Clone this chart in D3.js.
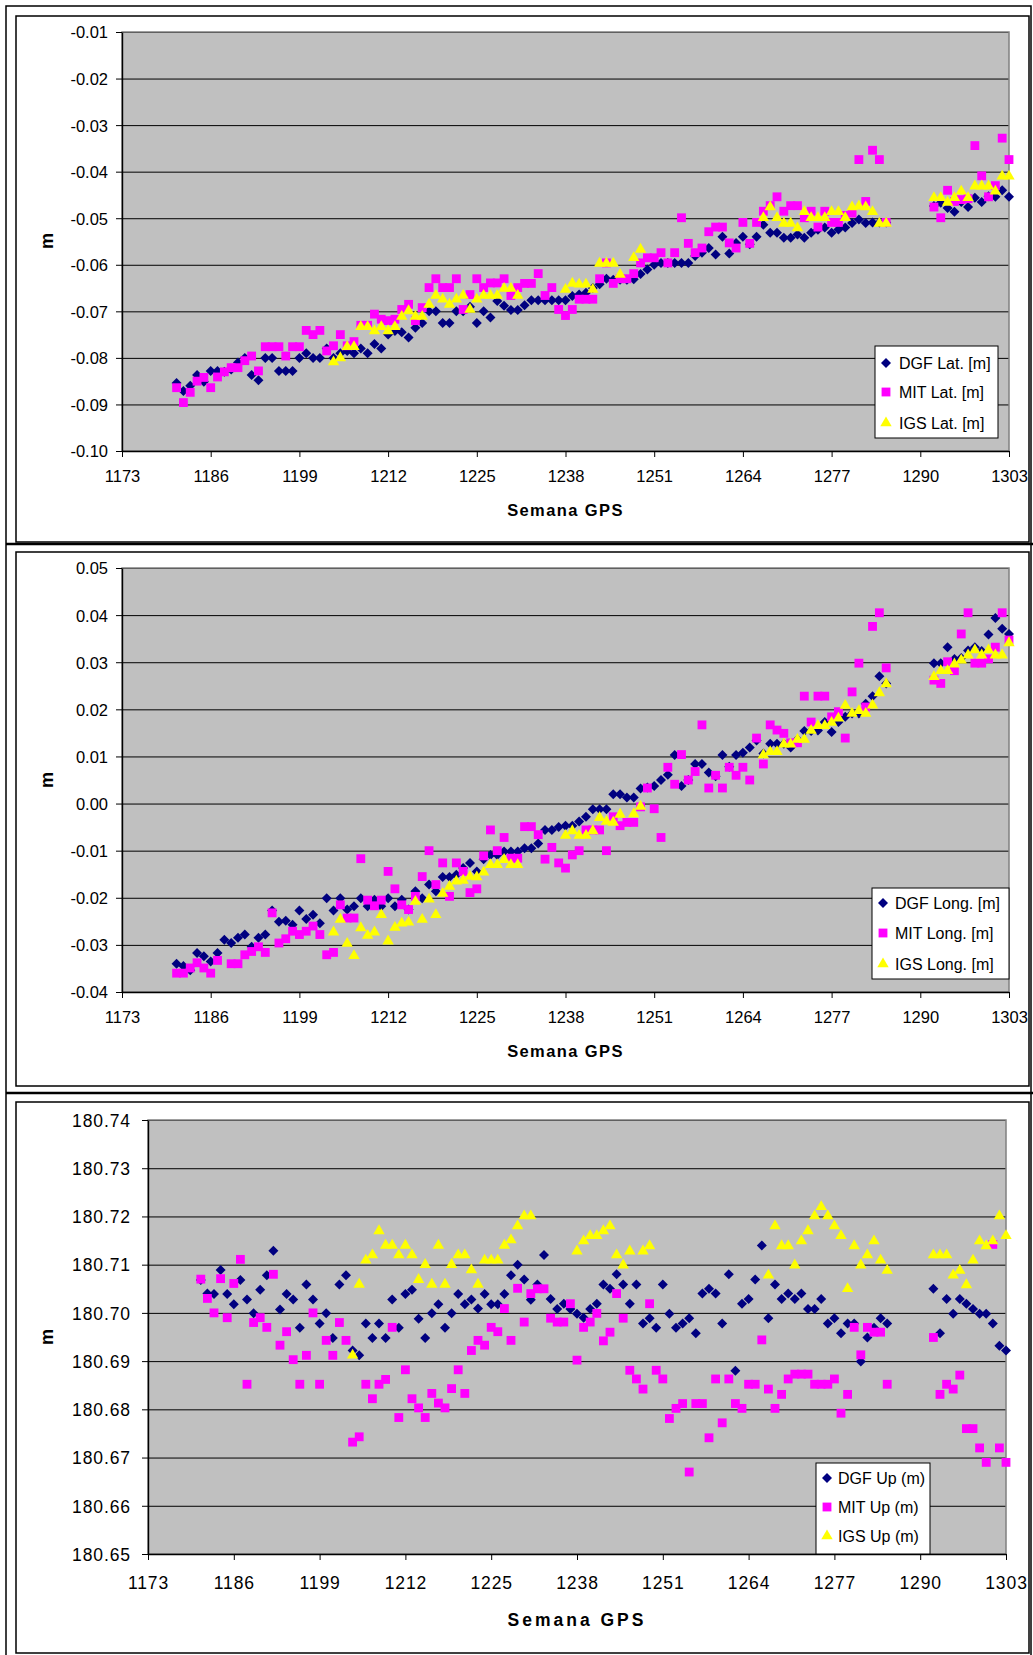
<!DOCTYPE html>
<html>
<head>
<meta charset="utf-8">
<script src="https://cdn.jsdelivr.net/npm/d3@7"></script>
<style>
  body { margin: 0; background: #fff; }
  svg { display: block; font-family: "Liberation Sans", Arial, Helvetica, sans-serif; }
</style>
</head>
<body>
<svg id="chart" width="1033" height="1655"></svg>
<script>
// GPS weeks with data (gap between 1285 and 1292)
const weeks = d3.range(1181, 1286).concat(d3.range(1292, 1304));
const xTicks = [1173, 1186, 1199, 1212, 1225, 1238, 1251, 1264, 1277, 1290, 1303];

const latTicks = [-0.10, -0.09, -0.08, -0.07, -0.06, -0.05, -0.04, -0.03, -0.02, -0.01];
const longTicks = [-0.04, -0.03, -0.02, -0.01, 0.00, 0.01, 0.02, 0.03, 0.04, 0.05];
const upTicks = [180.65, 180.66, 180.67, 180.68, 180.69, 180.70, 180.71, 180.72, 180.73, 180.74];

const latNames = ["DGF Lat. [m]", "MIT Lat. [m]", "IGS Lat. [m]"];
const longNames = ["DGF Long. [m]", "MIT Long. [m]", "IGS Long. [m]"];
const upNames = ["DGF Up (m)", "MIT Up (m)", "IGS Up (m)"];

// rows of 10 weeks from 1181, then 1281-1285, then 1292-1303
const dgfLat = [
  -0.0854,-0.0871,-0.0860,-0.0837,-0.0851,-0.0828,-0.0828,-0.0830,-0.0825,-0.0810,
  -0.0800,-0.0837,-0.0848,-0.0800,-0.0800,-0.0828,-0.0828,-0.0828,-0.0800,-0.0790,
  -0.0800,-0.0800,-0.0780,-0.0800,-0.0790,-0.0785,-0.0790,-0.0780,-0.0790,-0.0770,
  -0.0780,-0.0750,-0.0742,-0.0745,-0.0756,-0.0735,-0.0725,-0.0700,-0.0700,-0.0725,
  -0.0725,-0.0700,-0.0700,-0.0690,-0.0725,-0.0700,-0.0713,-0.0678,-0.0688,-0.0697,
  -0.0697,-0.0687,-0.0676,-0.0676,-0.0676,-0.0676,-0.0676,-0.0676,-0.0667,-0.0664,
  -0.0660,-0.0650,-0.0642,-0.0630,-0.0632,-0.0632,-0.0632,-0.0631,-0.0620,-0.0610,
  -0.0600,-0.0596,-0.0596,-0.0596,-0.0596,-0.0596,-0.0581,-0.0574,-0.0564,-0.0578,
  -0.0540,-0.0576,-0.0553,-0.0540,-0.0556,-0.0540,-0.0514,-0.0531,-0.0531,-0.0542,
  -0.0542,-0.0535,-0.0542,-0.0531,-0.0525,-0.0520,-0.0531,-0.0524,-0.0520,-0.0510,
  -0.0503,-0.0510,-0.0509,-0.0509,-0.0509,
  -0.0474,-0.0467,-0.0478,-0.0486,-0.0465,-0.0476,-0.0456,-0.0465,-0.0453,-0.0454,-0.0440,-0.0454
];
const mitLat = [
  -0.0864,-0.0896,-0.0874,-0.0850,-0.0842,-0.0864,-0.0841,-0.0830,-0.0821,-0.0821,
  -0.0806,-0.0796,-0.0828,-0.0776,-0.0776,-0.0776,-0.0796,-0.0776,-0.0776,-0.0741,
  -0.0750,-0.0741,-0.0785,-0.0774,-0.0750,-0.0774,-0.0765,-0.0730,-0.0730,-0.0706,
  -0.0717,-0.0720,-0.0717,-0.0696,-0.0685,-0.0720,-0.0692,-0.0649,-0.0630,-0.0649,
  -0.0649,-0.0630,-0.0696,-0.0664,-0.0630,-0.0649,-0.0639,-0.0639,-0.0630,-0.0666,
  -0.0649,-0.0640,-0.0640,-0.0619,-0.0666,-0.0649,-0.0696,-0.0709,-0.0696,-0.0674,
  -0.0674,-0.0674,-0.0630,-0.0596,-0.0640,-0.0630,-0.0630,-0.0619,-0.0596,-0.0585,
  -0.0585,-0.0574,-0.0596,-0.0574,-0.0499,-0.0554,-0.0574,-0.0564,-0.0529,-0.0519,
  -0.0519,-0.0553,-0.0564,-0.0509,-0.0554,-0.0509,-0.0485,-0.0473,-0.0454,-0.0485,
  -0.0473,-0.0473,-0.0499,-0.0485,-0.0519,-0.0485,-0.0509,-0.0509,-0.0494,-0.0489,
  -0.0374,-0.0464,-0.0354,-0.0374,-0.0509,
  -0.0476,-0.0499,-0.0440,-0.0464,-0.0460,-0.0458,-0.0344,-0.0409,-0.0454,-0.0430,-0.0328,-0.0374
];
const igsLat = [
  null,null,null,null,null,null,null,null,null,null,
  null,null,null,null,null,null,null,null,null,null,
  null,null,null,-0.0809,-0.0800,-0.0776,-0.0776,-0.0733,-0.0733,-0.0742,
  -0.0733,-0.0742,-0.0733,-0.0711,-0.0699,-0.0711,-0.0711,-0.0685,-0.0666,-0.0674,
  -0.0685,-0.0674,-0.0666,-0.0696,-0.0674,-0.0666,-0.0666,-0.0666,-0.0651,-0.0651,
  -0.0666,null,null,null,null,null,null,-0.0653,-0.0640,-0.0642,
  -0.0642,-0.0653,-0.0597,-0.0597,-0.0597,-0.0621,null,-0.0585,-0.0567,null,
  null,null,null,null,null,null,null,null,null,null,
  null,null,null,null,null,null,-0.0499,-0.0476,-0.0499,-0.0511,
  -0.0511,-0.0521,-0.0486,-0.0499,-0.0499,-0.0499,-0.0486,-0.0486,-0.0499,-0.0476,
  -0.0474,-0.0476,-0.0486,-0.0511,-0.0511,
  -0.0456,-0.0456,-0.0466,-0.0456,-0.0442,-0.0456,-0.0431,-0.0431,-0.0431,-0.0442,-0.0410,-0.0410
];

const dgfLong = [
  -0.0340,-0.0345,-0.0354,-0.0317,-0.0324,-0.0335,-0.0317,-0.0289,-0.0296,-0.0285,
  -0.0278,-0.0304,-0.0285,-0.0278,-0.0227,-0.0251,-0.0249,-0.0257,-0.0227,-0.0245,
  -0.0236,-0.0254,-0.0201,-0.0227,-0.0201,-0.0225,-0.0218,-0.0201,-0.0218,-0.0204,
  -0.0218,-0.0201,-0.0218,-0.0204,-0.0225,-0.0186,-0.0201,-0.0172,-0.0186,-0.0156,
  -0.0156,-0.0151,-0.0137,-0.0126,-0.0144,-0.0118,-0.0109,-0.0109,-0.0102,-0.0102,
  -0.0102,-0.0095,-0.0095,-0.0085,-0.0056,-0.0056,-0.0050,-0.0047,-0.0047,-0.0038,
  -0.0028,-0.0012,-0.0012,-0.0012,0.0020,0.0020,0.0013,0.0013,0.0032,0.0034,
  0.0037,0.0050,0.0061,0.0103,0.0037,0.0050,0.0084,0.0084,0.0066,0.0058,
  0.0103,0.0078,0.0103,0.0108,0.0119,0.0134,0.0106,0.0127,0.0127,0.0127,
  0.0119,0.0136,0.0154,0.0154,0.0155,0.0173,0.0152,0.0173,0.0184,0.0191,
  0.0191,0.0212,0.0228,0.0270,0.0255,
  0.0298,0.0298,0.0332,0.0307,0.0309,0.0325,0.0332,0.0324,0.0359,0.0394,0.0371,0.0360
];
const mitLong = [
  -0.0360,-0.0360,-0.0349,-0.0338,-0.0349,-0.0360,-0.0333,null,-0.0340,-0.0340,
  -0.0321,-0.0314,-0.0304,-0.0316,-0.0232,-0.0296,-0.0287,-0.0271,-0.0278,-0.0271,
  -0.0260,-0.0278,-0.0321,-0.0316,-0.0215,-0.0243,-0.0243,-0.0117,-0.0205,-0.0217,
  -0.0205,-0.0144,-0.0181,-0.0215,-0.0225,-0.0197,-0.0155,-0.0100,-0.0172,-0.0126,
  -0.0197,-0.0126,-0.0144,-0.0189,-0.0181,-0.0111,-0.0056,-0.0100,-0.0072,-0.0116,
  -0.0116,-0.0049,-0.0049,-0.0066,-0.0118,-0.0093,-0.0126,-0.0137,-0.0109,-0.0100,
  -0.0056,-0.0056,-0.0056,-0.0100,-0.0028,-0.0047,-0.0040,-0.0040,-0.0007,0.0033,
  -0.0011,-0.0072,0.0077,0.0041,0.0104,0.0050,0.0068,0.0167,0.0033,0.0060,
  0.0033,0.0077,0.0060,0.0077,0.0050,0.0139,0.0084,0.0167,0.0156,0.0149,
  0.0129,0.0129,0.0228,0.0173,0.0228,0.0228,0.0184,0.0195,0.0139,0.0237,
  0.0298,0.0205,0.0376,0.0405,0.0288,
  0.0262,0.0255,0.0301,0.0282,0.0360,0.0405,0.0298,0.0298,0.0307,0.0332,0.0405,0.0347
];
const igsLong = [
  null,null,null,null,null,null,null,null,null,null,
  null,null,null,null,null,null,null,null,null,null,
  null,null,null,-0.0273,-0.0246,-0.0297,-0.0323,-0.0264,-0.0280,-0.0273,
  -0.0236,-0.0292,-0.0263,-0.0254,-0.0252,-0.0208,-0.0246,-0.0203,-0.0236,-0.0191,
  -0.0176,-0.0165,-0.0163,-0.0155,-0.0156,-0.0146,-0.0130,-0.0130,-0.0119,-0.0130,
  -0.0130,null,null,null,null,null,null,-0.0068,-0.0058,-0.0068,
  -0.0068,-0.0058,-0.0030,-0.0038,-0.0040,-0.0023,null,-0.0022,-0.0006,null,
  null,null,null,null,null,null,null,null,null,null,
  null,null,null,null,null,null,0.0103,0.0110,0.0110,0.0126,
  0.0126,0.0136,0.0136,0.0155,0.0165,0.0165,0.0172,0.0181,0.0208,0.0191,
  0.0197,0.0191,0.0209,0.0235,0.0254,
  0.0269,0.0282,0.0282,0.0296,0.0304,0.0315,0.0326,0.0315,0.0326,0.0315,0.0315,0.0341
];

const dgfUp = [
  180.7068,180.7040,180.7039,180.7089,180.7039,180.7018,180.7068,180.7028,180.6999,180.7048,
  180.7078,180.7129,180.7007,180.7039,180.7028,180.6969,180.7059,180.7028,180.6978,180.6999,
  180.6948,180.7059,180.7078,180.6922,180.6912,180.6978,180.6948,180.6978,180.6948,180.7028,
  180.6969,180.7039,180.7048,180.6988,180.6948,180.6999,180.7018,180.6969,180.6999,180.7039,
  180.7018,180.7028,180.7009,180.7039,180.7018,180.7018,180.7039,180.7078,180.7100,180.7069,
  180.7027,180.7059,180.7120,180.7029,180.7008,180.7019,180.7008,180.6998,180.6990,180.7008,
  180.7019,180.7059,180.7050,180.7080,180.7059,180.7019,180.7059,180.6978,180.6989,180.6969,
  180.7059,180.6998,180.6969,180.6978,180.6989,180.6958,180.7040,180.7050,180.7040,180.6978,
  180.7080,180.6880,180.7019,180.7029,180.7069,180.7140,180.6989,180.7059,180.7029,180.7040,
  180.7029,180.7040,180.7008,180.7008,180.7029,180.6978,180.6989,180.6958,180.6978,180.6978,
  180.6899,180.6949,180.6969,180.6989,180.6978,
  180.7050,180.6958,180.7029,180.6998,180.7029,180.7019,180.7008,180.6998,180.6998,180.6978,180.6932,180.6922
];
const mitUp = [
  180.7070,180.7030,180.7000,180.7071,180.6990,180.7061,180.7111,180.6852,180.6980,180.6990,
  180.6970,180.7080,180.6933,180.6961,180.6903,180.6852,180.6912,180.7000,180.6852,180.6943,
  180.6912,180.6980,180.6943,180.6732,180.6743,180.6852,180.6822,180.6852,180.6862,180.6970,
  180.6783,180.6882,180.6822,180.6803,180.6783,180.6833,180.6813,180.6803,180.6843,180.6882,
  180.6833,180.6922,180.6943,180.6933,180.6970,180.6961,180.7009,180.6943,180.7051,180.6981,
  180.7040,180.7050,180.7050,180.6989,180.6981,180.6981,180.7019,180.6902,180.6970,180.6981,
  180.6999,180.6942,180.6960,180.7040,180.6989,180.6881,180.6863,180.6842,180.7019,180.6881,
  180.6863,180.6781,180.6802,180.6812,180.6670,180.6812,180.6812,180.6741,180.6863,180.6772,
  180.6863,180.6812,180.6802,180.6852,180.6852,180.6944,180.6842,180.6802,180.6831,180.6863,
  180.6873,180.6873,180.6873,180.6852,180.6852,180.6852,180.6863,180.6792,180.6831,180.6970,
  180.6913,180.6970,180.6960,180.6960,180.6852,
  180.6949,180.6831,180.6852,180.6842,180.6871,180.6760,180.6760,180.6720,180.6690,180.7142,180.6720,180.6690
];
const igsUp = [
  null,null,null,null,null,null,null,null,null,null,
  null,null,null,null,null,null,null,null,null,null,
  null,null,null,180.6912,180.7059,180.7109,180.7120,180.7170,180.7140,180.7140,
  180.7120,180.7140,180.7120,180.7069,180.7100,180.7059,180.7140,180.7059,180.7100,180.7120,
  180.7120,180.7089,180.7059,180.7109,180.7109,180.7109,180.7140,180.7151,180.7180,180.7201,
  180.7201,null,null,null,null,null,null,180.7128,180.7149,180.7160,
  180.7160,180.7170,180.7180,180.7120,180.7099,180.7128,null,180.7128,180.7139,null,
  null,null,null,null,null,null,null,null,null,null,
  null,null,null,null,null,null,180.7078,180.7180,180.7139,180.7139,
  180.7099,180.7149,180.7170,180.7201,180.7220,180.7201,180.7180,180.7160,180.7050,180.7139,
  180.7099,180.7120,180.7149,180.7109,180.7088,
  180.7120,180.7120,180.7120,180.7078,180.7088,180.7058,180.7109,180.7149,180.7139,180.7149,180.7201,180.7160
];

const colors = ["#000080", "#ff00ff", "#ffff00"];
const symbols = [
  d3.symbol(d3.symbolSquare, 50),   // drawn rotated -> diamond
  d3.symbol(d3.symbolSquare, 78),
  d3.symbol(d3.symbolTriangle, 56)
];

const panels = [
  {
    frame: [16, 16, 1029, 542], plot: [122, 32, 1009, 451],
    ticks: latTicks, series: [dgfLat, mitLat, igsLat], names: latNames,
    font: 16.5, spacing: 0, labelGap: 14, xLabelY: 31,
    title: { y: 516, size: 16.5, spacing: 1.4 }, mY: 241,
    legend: { box: [875, 346, 998, 438], rows: [363, 392, 423], markX: 886, textX: 899 }
  },
  {
    frame: [16, 552, 1029, 1086], plot: [122, 568, 1009, 992],
    ticks: longTicks, series: [dgfLong, mitLong, igsLong], names: longNames,
    font: 16.5, spacing: 0, labelGap: 14, xLabelY: 31,
    title: { y: 1057, size: 16.5, spacing: 1.4 }, mY: 780,
    legend: { box: [872, 888, 1009, 979], rows: [903, 933, 964], markX: 883, textX: 895 }
  },
  {
    frame: [16, 1102, 1029, 1653], plot: [148, 1120, 1006, 1554],
    ticks: upTicks, series: [dgfUp, mitUp, igsUp], names: upNames,
    font: 17.5, spacing: 0.9, labelGap: 17, xLabelY: 35,
    title: { y: 1626, size: 17.5, spacing: 3 }, mY: 1337,
    legend: { box: [816, 1463, 930, 1554], rows: [1478, 1507, 1536], markX: 827, textX: 838 }
  }
];

const svg = d3.select("#chart");

// page frame and separators
svg.append("path")
  .attr("d", "M6,1655V6H1031V1655")
  .attr("fill", "none").attr("stroke", "#000").attr("stroke-width", 1.5);
[544, 1093].forEach(function(yy) {
  svg.append("line").attr("x1", 6).attr("x2", 1033).attr("y1", yy).attr("y2", yy)
    .attr("stroke", "#000").attr("stroke-width", 2.5);
});

panels.forEach(drawPanel);

function drawPanel(p) {
  var x0 = p.plot[0], y0 = p.plot[1], x1 = p.plot[2], y1 = p.plot[3];
  var x = d3.scaleLinear().domain([1173, 1303]).range([x0, x1]);
  var y = d3.scaleLinear().domain([p.ticks[0], p.ticks[p.ticks.length - 1]]).range([y1, y0]);
  var g = svg.append("g");

  g.append("rect")
    .attr("x", p.frame[0]).attr("y", p.frame[1])
    .attr("width", p.frame[2] - p.frame[0]).attr("height", p.frame[3] - p.frame[1])
    .attr("fill", "#fff").attr("stroke", "#000").attr("stroke-width", 1.5);

  g.append("rect")
    .attr("x", x0).attr("y", y0).attr("width", x1 - x0).attr("height", y1 - y0)
    .attr("fill", "#c0c0c0");

  // gridlines
  g.append("g")
    .attr("transform", "translate(" + x0 + ",0)")
    .call(d3.axisLeft(y).tickValues(p.ticks.slice(1)).tickSize(-(x1 - x0)).tickFormat(""))
    .call(function(s) { s.select(".domain").remove(); })
    .selectAll("line").attr("stroke", "#000").attr("stroke-width", 1);

  g.append("rect")
    .attr("x", x0).attr("y", y0).attr("width", x1 - x0).attr("height", y1 - y0)
    .attr("fill", "none").attr("stroke", "#808080").attr("stroke-width", 1.5);

  // axes
  var yAxis = g.append("g")
    .attr("transform", "translate(" + x0 + ",0)")
    .call(d3.axisLeft(y).tickValues(p.ticks).tickSize(6).tickSizeOuter(0)
      .tickFormat(function(v) { return v.toFixed(2); }));
  yAxis.selectAll("text")
    .attr("x", -p.labelGap).attr("dy", "0.36em");

  var xAxis = g.append("g")
    .attr("transform", "translate(0," + y1 + ")")
    .call(d3.axisBottom(x).tickValues(xTicks).tickSize(6).tickSizeOuter(0)
      .tickFormat(function(v) { return String(v); }));
  xAxis.selectAll("text").attr("y", p.xLabelY).attr("dy", 0);

  [yAxis, xAxis].forEach(function(a) {
    a.attr("font-family", null).attr("font-size", p.font)
      .style("letter-spacing", p.spacing + "px");
    a.selectAll("text").attr("fill", "#000");
    a.selectAll("line").attr("stroke", "#000");
    a.select(".domain").attr("stroke", "#000").attr("stroke-width", 1.4);
  });

  // points
  p.series.forEach(function(s, i) {
    var pts = weeks.map(function(w, j) { return { w: w, v: s[j] }; })
      .filter(function(d) { return d.v != null; });
    g.append("g").selectAll("path")
      .data(pts)
      .join("path")
      .attr("d", symbols[i])
      .attr("transform", function(d) {
        return "translate(" + x(d.w) + "," + y(d.v) + ")" + (i === 0 ? " rotate(45)" : "");
      })
      .attr("fill", colors[i]);
  });

  // axis titles
  g.append("text")
    .attr("x", (x0 + x1) / 2).attr("y", p.title.y)
    .attr("text-anchor", "middle")
    .attr("font-weight", "bold").attr("font-size", p.title.size)
    .style("letter-spacing", p.title.spacing + "px")
    .text("Semana GPS");

  g.append("text")
    .attr("transform", "translate(48," + p.mY + ") rotate(-90)")
    .attr("text-anchor", "middle").attr("dy", "0.26em")
    .attr("font-weight", "bold").attr("font-size", 18)
    .text("m");

  // legend
  var L = p.legend;
  g.append("rect")
    .attr("x", L.box[0]).attr("y", L.box[1])
    .attr("width", L.box[2] - L.box[0]).attr("height", L.box[3] - L.box[1])
    .attr("fill", "#fff").attr("stroke", "#000").attr("stroke-width", 1);
  p.names.forEach(function(name, i) {
    g.append("path")
      .attr("d", symbols[i])
      .attr("transform", "translate(" + L.markX + "," + L.rows[i] + ")" + (i === 0 ? " rotate(45)" : ""))
      .attr("fill", colors[i]);
    g.append("text")
      .attr("x", L.textX).attr("y", L.rows[i]).attr("dy", "0.36em")
      .attr("font-size", 16)
      .text(name);
  });
}
</script>
</body>
</html>
